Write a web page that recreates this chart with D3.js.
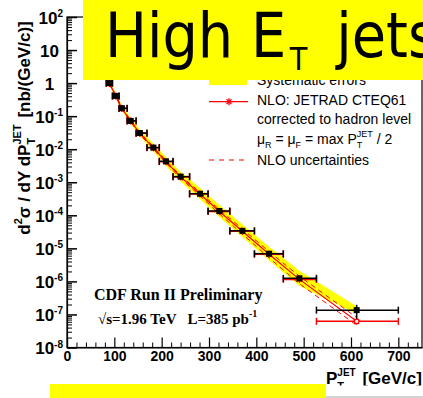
<!DOCTYPE html>
<html><head><meta charset="utf-8">
<script src="https://cdn.jsdelivr.net/npm/d3@7"></script>
<style>html,body{margin:0;padding:0;background:#fff;overflow:hidden}svg{display:block}</style>
</head><body><svg id="chart" width="423" height="398"></svg>
<script>
// Inclusive jet cross section, CDF Run II (kT), |Y| bin
const binLo   = [83, 96, 110, 127, 146, 169, 195, 224, 259, 298, 344, 396, 457, 527];
const binHi   = [96, 110, 127, 146, 169, 195, 224, 259, 298, 344, 396, 457, 527, 700];
const ptMean  = [89.5, 103.6, 116, 134.6, 154, 182.5, 209, 240, 281, 322, 370.6, 427, 491, 612];
const xsec    = [1.0, 0.41, 0.174, 0.072, 0.031, 0.0112, 0.0043, 0.00148, 4.5e-4, 1.35e-4, 3.4e-5, 6.9e-6, 1.24e-6, 1.35e-7];
const statPct = [0.5, 0.6, 0.8, 1, 1.2, 1.5, 2, 2.5, 3, 4, 6, 9, 15, 45];
const sysUpPct = [15, 17, 20, 23, 26, 32, 35, 41, 48, 51, 55, 62, 70, 32];
const sysDnPct = [13, 15, 17, 19, 21, 24, 26, 29, 32, 34, 35, 38, 41, 24];
// NLO JETRAD CTEQ6.1, corrected to hadron level
const nlo      = [0.98, 0.40, 0.17, 0.071, 0.030, 0.0110, 0.0042, 0.00145, 4.4e-4, 1.3e-4, 3.3e-5, 6.6e-6, 1.15e-6, 6.2e-8];
const nloUpPct = [5, 5, 6, 6, 7, 8, 9, 10, 12, 14, 17, 20, 25, 30];
const nloDnPct = [5, 5, 6, 6, 7, 8, 9, 10, 12, 15, 18, 22, 26, 24];
// axis ticks
const xMajorTicks = [0, 100, 200, 300, 400, 500, 600, 700];
const yDecades = [-8, -7, -6, -5, -4, -3, -2, -1, 0, 1, 2];

const svg = d3.select("#chart");
const SANS = "'Liberation Sans', Arial, sans-serif";
const SERIF = "'Liberation Serif', 'Times New Roman', serif";
const RED = "#ff0000", YEL = "#ffff00";

const x = d3.scaleLinear().domain([0, 750]).range([67, 422]);
const y = d3.scaleLog().domain([1e-8, 1e2]).range([347.5, 17]);

// rich text: parts laid out left to right, a part may stack sub+sup
function rich(g, x0, y0, parts, base) {
  let cx = x0;
  parts.forEach(p => {
    const items = p.stack || [p];
    let w = 0;
    items.forEach(it => {
      const el = g.append("text")
        .attr("x", cx + (it.dx || 0)).attr("y", y0 + (it.dy || 0))
        .attr("font-size", it.size || base)
        .style("white-space", "pre")
        .text(it.t);
      w = Math.max(w, el.node().getComputedTextLength() + (it.dx || 0));
    });
    cx += w + (p.gap || 0);
  });
  return cx - x0;
}

const data = ptMean.map((pt, i) => ({
  pt, v: xsec[i], lo: binLo[i], hi: binHi[i],
  st: xsec[i] * statPct[i] / 100,
  su: xsec[i] * (1 + sysUpPct[i] / 100), sd: xsec[i] * (1 - sysDnPct[i] / 100),
  n: nlo[i], nu: nlo[i] * (1 + nloUpPct[i] / 100), nd: nlo[i] * (1 - nloDnPct[i] / 100)
}));

// systematic band
svg.append("path").datum(data)
  .attr("d", d3.area().x(d => x(d.pt)).y0(d => y(d.sd)).y1(d => y(d.su)))
  .attr("fill", YEL);

// NLO uncertainties
["nu", "nd"].forEach(k => {
  svg.append("path").datum(data)
    .attr("d", d3.line().x(d => x(d.pt)).y(d => y(d[k])))
    .attr("fill", "none").attr("stroke", RED).attr("stroke-width", 1)
    .attr("stroke-dasharray", "5,4");
});
// NLO central
svg.append("path").datum(data)
  .attr("d", d3.line().x(d => x(d.pt)).y(d => y(d.n)))
  .attr("fill", "none").attr("stroke", RED).attr("stroke-width", 1.2);

function hbar(g, d, val, color) {
  const yy = y(val);
  g.append("line").attr("x1", x(d.lo)).attr("x2", x(d.hi)).attr("y1", yy).attr("y2", yy);
  [d.lo, d.hi].forEach(e => g.append("line").attr("x1", x(e)).attr("x2", x(e)).attr("y1", yy - 3.5).attr("y2", yy + 3.5));
  g.attr("stroke", color).attr("stroke-width", 1.5);
}
function star(g, cx, cy, r) {
  [[r, 0], [0, r], [r * 0.7, r * 0.7], [r * 0.7, -r * 0.7]].forEach(([a, b]) =>
    g.append("line").attr("x1", cx - a).attr("x2", cx + a).attr("y1", cy - b).attr("y2", cy + b));
}

// NLO points
data.forEach(d => {
  const g = svg.append("g");
  hbar(g, d, d.n, RED);
  const s = svg.append("g").attr("stroke", RED).attr("stroke-width", 1.3);
  star(s, x(d.pt), y(d.n), 3.5);
  if (d.pt > 600) {
    svg.append("circle").attr("cx", x(d.pt)).attr("cy", y(d.n)).attr("r", 2.2)
      .attr("fill", "#fff").attr("stroke", RED).attr("stroke-width", 1.2);
  }
});

// data points
data.forEach(d => {
  const g = svg.append("g");
  hbar(g, d, d.v, "#000");
  g.append("line").attr("x1", x(d.pt)).attr("x2", x(d.pt))
    .attr("y1", y(d.v + d.st)).attr("y2", y(d.v - d.st));
  svg.append("rect").attr("x", x(d.pt) - 3).attr("y", y(d.v) - 3)
    .attr("width", 6).attr("height", 6).attr("fill", "#000");
});

// CDF label
const cdf = svg.append("g").attr("font-family", SERIF).attr("font-weight", "bold").attr("fill", "#000");
cdf.append("text").attr("x", 94).attr("y", 299.5).attr("font-size", 16).text("CDF Run II Preliminary");
rich(cdf, 98, 323.5, [
  { t: "\u221As=1.96 TeV   L=385 pb", size: 15 },
  { t: "-1", size: 10, dy: -7 }
], 15);

// legend
const leg = svg.append("g");
leg.append("rect").attr("x", 209).attr("y", 68).attr("width", 38).attr("height", 17).attr("fill", YEL);
leg.append("line").attr("x1", 209).attr("x2", 248).attr("y1", 101.7).attr("y2", 101.7)
  .attr("stroke", RED).attr("stroke-width", 1.3);
star(leg.append("g").attr("stroke", RED).attr("stroke-width", 1.3), 229, 101.7, 3.5);
leg.append("line").attr("x1", 209).attr("x2", 248).attr("y1", 160).attr("y2", 160)
  .attr("stroke", RED).attr("stroke-width", 1.2).attr("stroke-dasharray", "5,5");
const lt = leg.append("g").attr("font-family", SANS).attr("fill", "#000");
lt.append("text").attr("x", 257).attr("y", 85).attr("font-size", 14).text("Systematic errors");
lt.append("text").attr("x", 257).attr("y", 104.5).attr("font-size", 14).text("NLO: JETRAD CTEQ61");
lt.append("text").attr("x", 257).attr("y", 123.5).attr("font-size", 14).text("corrected to hadron level");
rich(lt, 257, 143.5, [
  { t: "\u03BC", size: 14 }, { t: "R", size: 9, dy: 4 },
  { t: " = \u03BC", size: 14 }, { t: "F", size: 9, dy: 4 },
  { t: " = max P", size: 14 },
  { stack: [{ t: "T", size: 9, dy: 4 }, { t: "JET", size: 9, dy: -7 }] },
  { t: " / 2", size: 14 }
], 14);
lt.append("text").attr("x", 257).attr("y", 164.5).attr("font-size", 14).text("NLO uncertainties");

// frame
svg.append("rect").attr("x", 67).attr("y", 17).attr("width", 355).attr("height", 330.5)
  .attr("fill", "none").attr("stroke", "#000").attr("stroke-width", 1.2);

// x axis
const xMinor = d3.range(0, 751, 20).filter(v => v % 100 !== 0);
svg.append("g").attr("transform", "translate(0,347.5)")
  .call(d3.axisBottom(x).tickValues(xMinor).tickSizeInner(-5).tickSizeOuter(0).tickFormat(""))
  .call(g => g.select(".domain").remove());
const xa = svg.append("g").attr("transform", "translate(0,347.5)")
  .call(d3.axisBottom(x).tickValues(xMajorTicks).tickSizeInner(-10).tickSizeOuter(0).tickPadding(4).tickFormat(d3.format("d")));
xa.select(".domain").attr("stroke-width", 1.2);
xa.selectAll(".tick line").attr("stroke-width", 1.2);
xa.selectAll("text").attr("font-family", SANS).attr("font-weight", "bold").attr("font-size", 14).attr("fill", "#000");

// y axis
const yMinor = [];
yDecades.slice(0, -1).forEach(e => { for (let k = 2; k <= 9; k++) yMinor.push(k * Math.pow(10, e)); });
svg.append("g").attr("transform", "translate(67,0)")
  .call(d3.axisLeft(y).tickValues(yMinor).tickSizeInner(-5).tickSizeOuter(0).tickFormat(""))
  .call(g => g.select(".domain").remove());
const ya = svg.append("g").attr("transform", "translate(67,0)")
  .call(d3.axisLeft(y).tickValues(yDecades.map(e => Math.pow(10, e))).tickSizeInner(-10).tickSizeOuter(0).tickFormat(""));
ya.select(".domain").attr("stroke-width", 1.2);
ya.selectAll(".tick line").attr("stroke-width", 1.5);

const yl = svg.append("g").attr("font-family", SANS).attr("font-weight", "bold").attr("fill", "#000");
yDecades.forEach(e => {
  const yy = y(Math.pow(10, e));
  const g = yl.append("g");
  let w;
  if (e === 0 || e === 1) {
    w = rich(g, 0, 0, [{ t: e === 0 ? "1" : "10", size: 17 }], 17);
    g.attr("transform", `translate(${49.5 - w / 2},${yy + 6.5})`);
  } else {
    w = rich(g, 0, 0, [{ t: "10", size: 17 }, { t: String(e), size: 10, dy: -6.5 }], 17);
    g.attr("transform", `translate(${63 - w},${yy + 6.5})`);
  }
});

// axis titles
const yt = svg.append("g").attr("font-family", SANS).attr("font-weight", "bold").attr("fill", "#000");
const ytIn = yt.append("g");
const wy = rich(ytIn, 0, 0, [
  { t: "d", size: 17 }, { t: "2", size: 11, dy: -8 },
  { t: "\u03C3 / dY dP", size: 17 },
  { stack: [{ t: "T", size: 11, dy: 5 }, { t: "JET", size: 11, dy: -9 }], gap: 2 },
  { t: " [nb/(GeV/c)]", size: 17 }
], 17);
yt.attr("transform", `translate(30,${128 + wy / 2}) rotate(-90)`);

const xt = svg.append("g").attr("font-family", SANS).attr("font-weight", "bold").attr("fill", "#000");
rich(xt, 326, 384, [
  { t: "P", size: 17 },
  { stack: [{ t: "T", size: 11, dy: 6 }, { t: "JET", size: 10, dy: -8 }], gap: 2 },
  { t: " [GeV/c]", size: 17 }
], 17);
svg.append("rect").attr("x", 326).attr("y", 385.5).attr("width", 97).attr("height", 11).attr("fill", "#fff");
svg.append("line").attr("x1", 326).attr("x2", 423).attr("y1", 397).attr("y2", 397)
  .attr("stroke", "#a8a8a8").attr("stroke-width", 1);

// title banner
svg.append("rect").attr("x", 83).attr("y", 0).attr("width", 340).attr("height", 80).attr("fill", YEL);
const tt = svg.append("g").attr("font-family", "'DejaVu Sans', Verdana, sans-serif").attr("fill", "#000")
  .attr("transform", "translate(105,57) scale(0.9,1)");
rich(tt, 0, 0, [
  { t: "High E", size: 62, gap: 4 },
  { t: "T", size: 32, dy: 13, gap: 32 },
  { t: "jets", size: 62 }
], 62);

// bottom banner
svg.append("rect").attr("x", 50).attr("y", 384).attr("width", 276).attr("height", 14).attr("fill", YEL);
</script></body></html>
